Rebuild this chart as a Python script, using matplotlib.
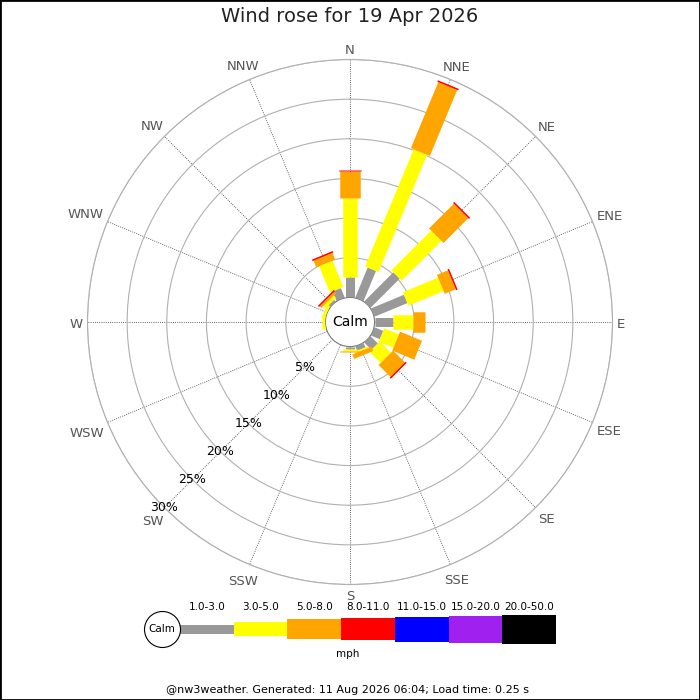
import numpy as np
import matplotlib
matplotlib.use("Agg")
import matplotlib.pyplot as plt

# ---------------- data ----------------
directions = ['N', 'NNE', 'NE', 'ENE', 'E', 'ESE', 'SE', 'SSE',
              'S', 'SSW', 'SW', 'WSW', 'W', 'WNW', 'NW', 'NNW']
speed_bins = ['1.0-3.0', '3.0-5.0', '5.0-8.0', '8.0-11.0',
              '11.0-15.0', '15.0-20.0', '20.0-50.0']
speed_unit = 'mph'
# percentage of time per direction, per speed bin (mph)
pct_1_3 = [2.6, 4.1, 5.2, 4.5, 2.3, 1.2, 1.3, 0.6, 0.3, 0, 0, 0, 0.0, 0.0, 0.3, 1.3]
pct_3_5 = [9.9, 16.0, 7.1, 4.8, 2.5, 2.0, 2.0, 0.2, 0.2, 0, 0, 0, 0.4, 0.4, 0.4, 3.6]
pct_5_8 = [3.4, 9.0, 4.4, 1.5, 1.6, 3.0, 2.1, 0.6, 0.2, 0, 0, 0, 0.0, 0.0, 0.3, 0.9]
pct_8_11 = [0.2, 0.2, 0.2, 0.2, 0, 0, 0.2, 0, 0, 0, 0, 0, 0, 0, 0.2, 0.2]
pct_11_15 = [0] * 16
pct_15_20 = [0] * 16
pct_20_50 = [0] * 16
ring_values = [5, 10, 15, 20, 25, 30]
title = 'Wind rose for 19 Apr 2026'
footer = '@nw3weather. Generated: 11 Aug 2026 06:04; Load time: 0.25 s'

# ---------------- style ----------------
colors = ['#999999', '#ffff00', '#ffa500', '#ff0000', '#0000ff', '#a020f0', '#000000']
widths_px = [9, 14.5, 20.5, 22.5, 25, 27, 29]
DPI = 100
px2pt = 72.0 / DPI

series = [pct_1_3, pct_3_5, pct_5_8, pct_8_11, pct_11_15, pct_15_20, pct_20_50]

fig = plt.figure(figsize=(7, 7), dpi=DPI)
fig.patch.set_facecolor('white')

R_OUT = 262.5
cx, cy = 350, 322
ax = fig.add_axes([(cx - R_OUT) / 700, (700 - cy - R_OUT) / 700,
                   2 * R_OUT / 700, 2 * R_OUT / 700], projection='polar')
ax.set_theta_zero_location('N')
ax.set_theta_direction(-1)
ax.set_ylim(0, 30)
ax.set_rorigin(-3.1)
ax.set_facecolor('white')

theta = np.deg2rad(np.arange(len(directions)) * 22.5)
ax.set_xticks(theta)
ax.set_xticklabels([])
ax.tick_params(axis='x', length=0, pad=0)
ax.set_yticks(ring_values)
ax.set_yticklabels([])
ax.xaxis.grid(True, color='#333333', linestyle=(0, (1, 1.6)), linewidth=0.6)
ax.yaxis.grid(True, color='#b0b0b0', linestyle='-', linewidth=0.8)
ax.spines['polar'].set_color('#b0b0b0')
ax.spines['polar'].set_linewidth(0.8)
ax.spines['inner'].set_color('#777777')
ax.spines['inner'].set_linewidth(0.8)

# bars: stacked segments as thick butt-capped lines
for i, th in enumerate(theta):
    base = 0.0
    for k, s in enumerate(series):
        v = s[i]
        if v > 0:
            ax.plot([th, th], [base, base + v], color=colors[k],
                    linewidth=widths_px[k] * px2pt, solid_capstyle='butt',
                    zorder=3 + k * 0.01)
        base += v

# direction labels just outside the outer ring, box-aware offset
renderer = fig.canvas.get_renderer()
for lab, th in zip(directions, theta):
    t = ax.annotate(lab, xy=(th, ring_values[-1]), xytext=(0, 0),
                    textcoords='offset points', ha='center', va='center',
                    fontsize=9.5, color='#555555', annotation_clip=False)
    bb = t.get_window_extent(renderer)
    s_, c_ = np.sin(th), np.cos(th)
    d = 4.5 + bb.width / 2 * abs(s_) + 6.0 * abs(c_)
    t.xyann = (d * s_ * px2pt, (d * c_ - 2.0) * px2pt)

# radial labels along SW
for rv in ring_values:
    ax.text(np.deg2rad(225), rv, f'{rv}%', ha='center', va='center',
            fontsize=9, color='black', zorder=5)

ax.text(0.5, 0.5, 'Calm', transform=ax.transAxes, ha='center', va='center',
        fontsize=10, color='black')

fig.text(0.5, 1 - 17 / 700, title, ha='center', va='center', fontsize=14, color='#222222')

# ---------------- legend ----------------
seg_w = 53.7
lx0 = 180 - 1.0 * seg_w
lax = fig.add_axes([lx0 / 700, (700 - 659) / 700, 8 * seg_w / 700, 60 / 700])
lax.set_xlim(-1.5, 6.5)
lax.set_ylim(-30, 30)
lax.axis('off')
xs = np.arange(len(speed_bins))
hs = np.array(widths_px)
lax.bar(xs, hs, bottom=-hs / 2, width=1.0, color=colors, edgecolor='none', linewidth=0)
for x, lab in zip(xs, speed_bins):
    lax.text(x, 22, lab, ha='center', va='center', fontsize=7.5, color='black')
lax.text(2.62, -25, speed_unit, ha='center', va='center', fontsize=7.5, color='black')
lax.scatter([-0.84], [0], s=(36 * px2pt) ** 2, facecolor='white', edgecolor='black',
            linewidth=0.8, zorder=4, clip_on=False)
lax.text(-0.84, 0, 'Calm', ha='center', va='center', fontsize=7.5, zorder=5)

fig.text(348 / 700, 10 / 700, footer, ha='center', va='center', fontsize=8, color='black')

fig.patches.append(plt.Rectangle((0, 0), 1, 1, transform=fig.transFigure, fill=False,
                                 edgecolor='black', linewidth=2))

fig.savefig('out.png', dpi=DPI)
